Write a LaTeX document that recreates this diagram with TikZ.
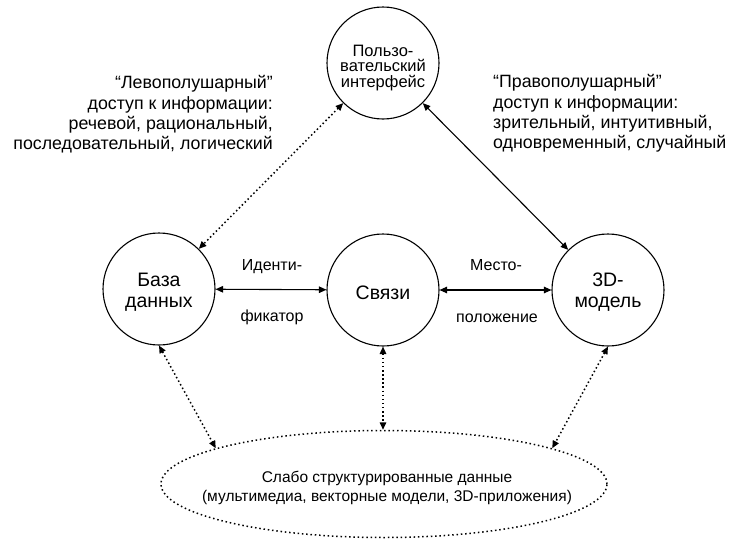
\documentclass[tikz,border=0pt]{standalone}
\usepackage{fontspec}
\setmainfont{Liberation Sans}
\usetikzlibrary{shapes.geometric,arrows.meta}
\begin{document}
\begin{tikzpicture}[x=1pt,y=-1pt,
  circ/.style={circle,draw,line width=1.1pt,minimum size=112pt,inner sep=0pt},
  bigtxt/.style={font=\fontsize{19.5}{21.5}\selectfont,align=center,inner sep=0pt},
  smalltxt/.style={font=\fontsize{16.5}{15.8}\selectfont,align=center,inner sep=0pt},
  lbl/.style={font=\fontsize{16}{18}\selectfont,inner sep=0pt},
  blk/.style={font=\fontsize{17.8}{20.3}\selectfont,inner sep=0pt},
  tips/.style={{Triangle[length=7.5pt,width=6.5pt]}-{Triangle[length=7.5pt,width=6.5pt]}},
  solidline/.style={tips,line width=1.1pt},
  dotline/.style={tips,line width=1.5pt,dash pattern=on 1.5pt off 2.6pt},
  dotborder/.style={draw,line width=1.5pt,dash pattern=on 1.5pt off 2.8pt}
]
\useasboundingbox (0,0) rectangle (732,541);

\node[circ] (ui) at (383,63) {};
\node[smalltxt] (uitext) at (383,68) {Пользо-\\вательский\\интерфейс};
\node[circ] (db) at (159,289) {};
\node[bigtxt] (dbtext) at (159,292) {База\\данных};
\node[circ] (links) at (383,290) {};
\node[bigtxt] (linkstext) at (383,293) {Связи};
\node[circ] (model) at (608,290) {};
\node[bigtxt] (modeltext) at (608,292) {3D-\\модель};

\node[ellipse,dotborder,minimum width=446pt,minimum height=107pt,inner sep=0pt] (ell) at (384,484) {};
\node[align=center,inner sep=0pt,font=\fontsize{15.5}{18.5}\selectfont] (elltext) at (387,488)
  {Слабо структурированные данные\\(мультимедиа, векторные модели, 3D-приложения)};

\node[blk,align=right,anchor=east] (lefttext) at (273,114.5)
  {“Левополушарный”\\доступ к информации:\\речевой, рациональный,\\последовательный, логический};
\node[blk,align=left,anchor=west] (righttext) at (493,113.5)
  {“Правополушарный”\\доступ к информации:\\зрительный, интуитивный,\\одновременный, случайный};

\node[lbl] (id1) at (272,267) {Иденти-};
\node[lbl] (id2) at (272,317) {фикатор};
\node[lbl] (pl1) at (496,265) {Место-};
\node[lbl] (pl2) at (497,318) {положение};

\draw[solidline] (db) -- (links);
\draw[solidline] (links) -- (model);
\draw[dotline] (ui) -- (db);
\draw[solidline] (ui) -- (model);
\draw[dotline] (db.south) -- (ell.168);
\draw[dotline] (links.south) -- (links.south |- ell.north);
\draw[dotline] (model.south) -- (ell.12);
\end{tikzpicture}
\end{document}
